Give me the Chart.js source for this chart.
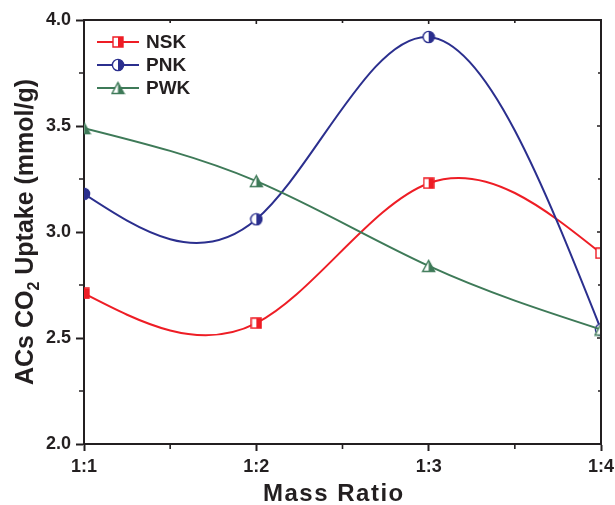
<!DOCTYPE html>
<html>
<head>
<meta charset="utf-8">
<script src="https://cdn.jsdelivr.net/npm/chart.js@4/dist/chart.umd.min.js"></script>
<style>
html,body{margin:0;padding:0;background:#fff;}
#wrap{width:615px;height:505px;position:relative;}
</style>
</head>
<body>
<div id="wrap"><canvas id="c" width="615" height="505"></canvas></div>
<script>
// ---- data ----
const categories = ['1:1', '1:2', '1:3', '1:4'];
const nskValues = [2.71, 2.57, 3.23, 2.90];
const pnkValues = [3.18, 3.06, 3.92, 2.54];
const pwkValues = [3.49, 3.24, 2.84, 2.54];
const yTickValues = [2.0, 2.5, 3.0, 3.5, 4.0];
const seriesNames = ['NSK', 'PNK', 'PWK'];

const RED = '#EE1D25', BLUE = '#2B2F8E', GREEN = '#3E7A58', AX = '#231F20';
const FONT = '"Liberation Sans", Arial, Helvetica, sans-serif';

function mk(w, h, fn) { const c = document.createElement('canvas'); c.width = w; c.height = h; fn(c.getContext('2d'), w, h); return c; }
function halfFill(ctx, pathFn, color, w, h) {
  ctx.lineWidth = 1.4; ctx.strokeStyle = color;
  pathFn(ctx); ctx.fillStyle = '#fff'; ctx.fill();
  ctx.save(); pathFn(ctx); ctx.clip(); ctx.fillStyle = color; ctx.fillRect(w / 2, 0, w / 2, h); ctx.restore();
  pathFn(ctx); ctx.stroke();
}
const sqMarker = mk(12, 12, (ctx, w, h) => halfFill(ctx, c => { c.beginPath(); c.rect(1, 1, 10, 10); }, RED, w, h));
const ciMarker = mk(14, 14, (ctx, w, h) => halfFill(ctx, c => { c.beginPath(); c.arc(7, 7, 5.6, 0, Math.PI * 2); }, BLUE, w, h));
const trMarker = mk(15, 14, (ctx, w, h) => halfFill(ctx, c => { c.beginPath(); c.moveTo(7.5, 1.5); c.lineTo(13.5, 12.5); c.lineTo(1.5, 12.5); c.closePath(); }, GREEN, w, h));
const markers = [sqMarker, ciMarker, trMarker];
const colors = [RED, BLUE, GREEN];

// natural cubic spline control points (pixel space) for smooth Origin-like curves
const splinePlugin = {
  id: 'naturalSpline',
  beforeDatasetDraw(chart, args) {
    const meta = args.meta; const pts = meta.data; const n = pts.length;
    if (n < 3) return;
    const x = pts.map(p => p.x), y = pts.map(p => p.y);
    const h = []; for (let i = 0; i < n - 1; i++) h.push(x[i + 1] - x[i]);
    const M = new Array(n).fill(0);
    const a = [], b = [], c = [], d = [];
    for (let i = 1; i < n - 1; i++) {
      a.push(h[i - 1]); b.push(2 * (h[i - 1] + h[i])); c.push(h[i]);
      d.push(6 * ((y[i + 1] - y[i]) / h[i] - (y[i] - y[i - 1]) / h[i - 1]));
    }
    const m = b.length;
    for (let i = 1; i < m; i++) { const w = a[i] / b[i - 1]; b[i] -= w * c[i - 1]; d[i] -= w * d[i - 1]; }
    const sol = new Array(m);
    sol[m - 1] = d[m - 1] / b[m - 1];
    for (let i = m - 2; i >= 0; i--) sol[i] = (d[i] - c[i] * sol[i + 1]) / b[i];
    for (let i = 0; i < m; i++) M[i + 1] = sol[i];
    pts[0].cp1x = x[0]; pts[0].cp1y = y[0];
    pts[n - 1].cp2x = x[n - 1]; pts[n - 1].cp2y = y[n - 1];
    for (let i = 0; i < n - 1; i++) {
      const hh = h[i], s = (y[i + 1] - y[i]) / hh;
      const d0 = s - hh * (2 * M[i] + M[i + 1]) / 6;
      const d1 = s + hh * (M[i] + 2 * M[i + 1]) / 6;
      pts[i].cp2x = x[i] + hh / 3; pts[i].cp2y = y[i] + d0 * hh / 3;
      pts[i + 1].cp1x = x[i + 1] - hh / 3; pts[i + 1].cp1y = y[i + 1] - d1 * hh / 3;
    }
    meta.dataset._pointsUpdated = true;
    meta.dataset._path = undefined;
  }
};

// frame, minor ticks, mirrored ticks, titles and legend
const decorPlugin = {
  id: 'decor',
  afterDraw(chart) {
    const ctx = chart.ctx, ca = chart.chartArea, xs = chart.scales.x, ys = chart.scales.y;
    ctx.save();
    ctx.strokeStyle = AX; ctx.lineWidth = 2;
    ctx.beginPath();
    ctx.moveTo(ca.left, ca.top); ctx.lineTo(ca.right, ca.top); ctx.lineTo(ca.right, ca.bottom);
    ctx.stroke();
    ctx.lineWidth = 1.6;
    ctx.beginPath();
    for (let i = 0; i < categories.length; i++) {
      const px = xs.getPixelForValue(i);
      ctx.moveTo(px, ca.top); ctx.lineTo(px, ca.top + 4);
      if (i < categories.length - 1) {
        const mx = (px + xs.getPixelForValue(i + 1)) / 2;
        ctx.moveTo(mx, ca.bottom); ctx.lineTo(mx, ca.bottom + 5);
        ctx.moveTo(mx, ca.top); ctx.lineTo(mx, ca.top + 3);
      }
    }
    for (let i = 0; i < yTickValues.length; i++) {
      const py = ys.getPixelForValue(yTickValues[i]);
      ctx.moveTo(ca.right, py); ctx.lineTo(ca.right - 4, py);
      if (i < yTickValues.length - 1) {
        const my = ys.getPixelForValue((yTickValues[i] + yTickValues[i + 1]) / 2);
        ctx.moveTo(ca.left, my); ctx.lineTo(ca.left - 5, my);
        ctx.moveTo(ca.right, my); ctx.lineTo(ca.right - 3, my);
      }
    }
    ctx.stroke();

    // x title
    ctx.fillStyle = AX;
    ctx.font = 'bold 24px ' + FONT;
    ctx.letterSpacing = '1.5px';
    ctx.textAlign = 'left'; ctx.textBaseline = 'middle';
    ctx.fillText('Mass Ratio', 263, 494);
    ctx.letterSpacing = '0px';

    // y title with subscript
    ctx.save();
    ctx.translate(25, (ca.top + ca.bottom) / 2);
    ctx.rotate(-Math.PI / 2);
    const big = 'bold 25px ' + FONT, small = 'bold 16px ' + FONT;
    const p1 = 'ACs CO', p2 = '2', p3 = ' Uptake (mmol/g)';
    ctx.font = big; const w1 = ctx.measureText(p1).width, w3 = ctx.measureText(p3).width;
    ctx.font = small; const w2 = ctx.measureText(p2).width;
    let sx = -(w1 + w2 + w3) / 2;
    ctx.textAlign = 'left'; ctx.textBaseline = 'alphabetic';
    ctx.font = big; ctx.fillText(p1, sx, 8); sx += w1;
    ctx.font = small; ctx.fillText(p2, sx, 14); sx += w2;
    ctx.font = big; ctx.fillText(p3, sx, 8);
    ctx.restore();

    // legend
    const rows = [42, 65, 88];
    for (let i = 0; i < seriesNames.length; i++) {
      ctx.strokeStyle = colors[i]; ctx.lineWidth = 2;
      ctx.beginPath(); ctx.moveTo(97, rows[i]); ctx.lineTo(139, rows[i]); ctx.stroke();
      const mkc = markers[i];
      ctx.drawImage(mkc, 118 - mkc.width / 2, rows[i] - mkc.height / 2);
      ctx.fillStyle = AX; ctx.font = 'bold 19px ' + FONT;
      ctx.textAlign = 'left'; ctx.textBaseline = 'middle';
      ctx.fillText(seriesNames[i], 146, rows[i] + 1);
    }
    ctx.restore();
  }
};

const seriesValues = [nskValues, pnkValues, pwkValues];
const datasets = seriesNames.map((name, i) => ({
  label: name,
  data: seriesValues[i],
  borderColor: colors[i],
  backgroundColor: colors[i],
  borderWidth: 2,
  tension: 0.4,
  pointStyle: markers[i],
  pointRadius: 6,
  pointHoverRadius: 6,
  clip: 0,
  order: 3 - i,
  fill: false
}));

new Chart(document.getElementById('c'), {
  type: 'line',
  data: { labels: categories, datasets },
  options: {
    responsive: false,
    animation: false,
    devicePixelRatio: 1,
    layout: { padding: { top: 20, right: 14, left: 0, bottom: 0 } },
    plugins: { legend: { display: false }, tooltip: { enabled: false } },
    scales: {
      x: {
        type: 'category',
        offset: false,
        grid: { display: true, drawOnChartArea: false, drawTicks: true, tickLength: 7, tickWidth: 2, tickColor: AX, color: AX },
        border: { display: true, color: AX, width: 2 },
        ticks: { color: AX, font: { family: FONT, size: 18, weight: 'bold' }, padding: 5, maxRotation: 0, autoSkip: false },
        afterFit: s => { s.height = 61; s.paddingRight = 14; s.paddingLeft = 0; }
      },
      y: {
        min: yTickValues[0],
        max: yTickValues[yTickValues.length - 1],
        afterBuildTicks: s => { s.ticks = yTickValues.map(v => ({ value: v })); },
        grid: { display: true, drawOnChartArea: false, drawTicks: true, tickLength: 8, tickWidth: 2, tickColor: AX, color: AX },
        border: { display: true, color: AX, width: 2 },
        ticks: { color: AX, font: { family: FONT, size: 18, weight: 'bold' }, padding: 5, callback: v => Number(v).toFixed(1) },
        afterFit: s => { s.width = 84; s.paddingTop = 10; s.paddingBottom = 10; }
      }
    }
  },
  plugins: [splinePlugin, decorPlugin]
});
</script>
</body>
</html>
